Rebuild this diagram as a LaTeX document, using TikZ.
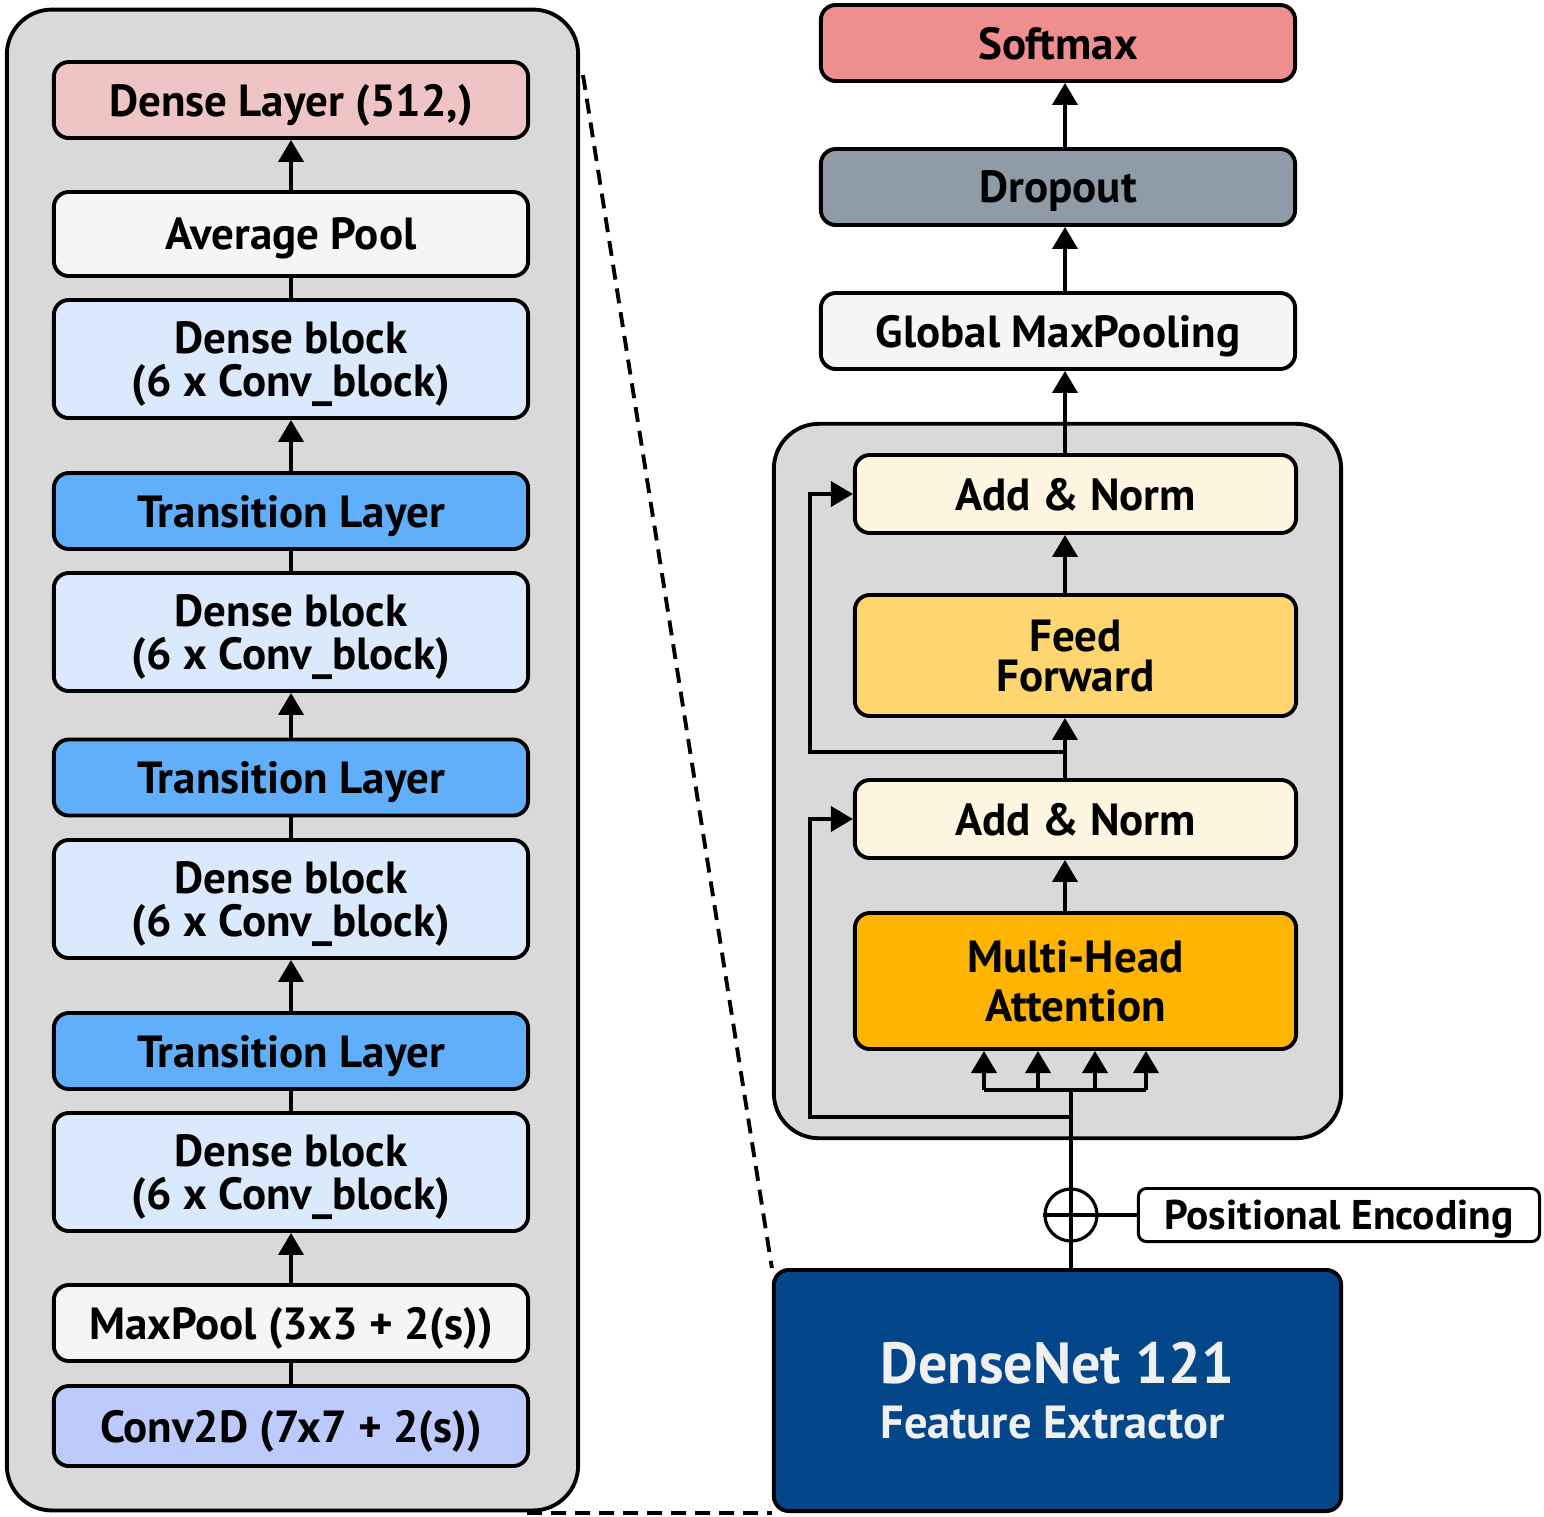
\documentclass[tikz,border=0pt]{standalone}
\usepackage{fontspec}
\setmainfont{PT Sans}
\usetikzlibrary{arrows.meta,shapes}
\definecolor{boxgray}{HTML}{D9D9D9}
\definecolor{pinkl}{HTML}{EEC4C4}
\definecolor{wht}{HTML}{F5F5F5}
\definecolor{dbblue}{HTML}{DAE9FC}
\definecolor{trblue}{HTML}{61AFFB}
\definecolor{convb}{HTML}{BCCBFC}
\definecolor{smx}{HTML}{EE8E8E}
\definecolor{drp}{HTML}{8F9BA6}
\definecolor{anc}{HTML}{FDF5E0}
\definecolor{ffy}{HTML}{FED56F}
\definecolor{mho}{HTML}{FEB400}
\definecolor{dnb}{HTML}{03468A}
\definecolor{dnt}{HTML}{F0F0F0}
\tikzstyle{lay} = [draw, line width=1.1pt, rounded corners=0.15cm, align=center, minimum width=4.74cm, inner sep=0pt, text depth=0pt, font=\bfseries\fontsize{12.8pt}{12.5pt}\selectfont]
\tikzstyle{db} = [lay, fill=dbblue, minimum height=1.18cm]
\tikzstyle{tl} = [lay, fill=trblue, minimum height=0.76cm]
\tikzstyle{hd} = [lay, minimum width=4.41cm]
\tikzstyle{an} = [hd, fill=anc, minimum height=0.78cm]
\tikzstyle{grp} = [draw, line width=1.1pt, fill=boxgray, rounded corners=0.45cm]
\tikzstyle{up} = [line width=1.1pt, -{Triangle[width=0.25cm,length=0.22cm]}]
\tikzstyle{ln} = [line width=1.1pt]
\tikzstyle{dsh} = [line width=1.1pt, dash pattern=on 0.15cm off 0.09cm]

\begin{document}
\begin{tikzpicture}[x=0.01cm,y=-0.01cm]
	\useasboundingbox (0,0) rectangle (1544,1517);

	\node[grp, minimum width=5.71cm, minimum height=15cm] (dnd) at (292.5,760) {};
	\node[lay, fill=pinkl, minimum height=0.76cm] (dl) at (291,100) {Dense Layer (512,)};
	\node[lay, fill=wht, minimum height=0.84cm] (ap) at (291,234) {Average Pool};
	\node[db] (db1) at (291,359) {Dense block\\(6 x Conv\_block)};
	\node[tl] (tl1) at (291,511) {Transition Layer};
	\node[db] (db2) at (291,632) {Dense block\\(6 x Conv\_block)};
	\node[tl] (tl2) at (291,777.5) {Transition Layer};
	\node[db] (db3) at (291,899) {Dense block\\(6 x Conv\_block)};
	\node[tl] (tl3) at (291,1051) {Transition Layer};
	\node[db] (db4) at (291,1172) {Dense block\\(6 x Conv\_block)};
	\node[lay, fill=wht, minimum height=0.76cm] (mp) at (291,1323) {MaxPool (3x3 + 2(s))};
	\node[lay, fill=convb, minimum height=0.80cm] (cv) at (291,1426) {Conv2D (7x7 + 2(s))};

	\draw[up] (ap) -- (dl);
	\draw[ln] (db1) -- (ap);
	\draw[up] (tl1) -- (db1);
	\draw[ln] (db2) -- (tl1);
	\draw[up] (tl2) -- (db2);
	\draw[ln] (db3) -- (tl2);
	\draw[up] (tl3) -- (db3);
	\draw[ln] (db4) -- (tl3);
	\draw[up] (mp) -- (db4);
	\draw[ln] (cv) -- (mp);

	\node[lay, fill=smx, minimum height=0.76cm] (sm) at (1058,43) {Softmax};
	\node[lay, fill=drp, minimum height=0.76cm] (dr) at (1058,187) {Dropout};
	\node[lay, fill=wht, minimum height=0.76cm] (gm) at (1058,331) {Global MaxPooling};
	\node[grp, minimum width=5.67cm, minimum height=7.14cm] (enc) at (1057.5,781) {};
	\node[an] (an1) at (1075.5,494) {Add \& Norm};
	\node[hd, fill=ffy, minimum height=1.21cm] (ff) at (1075.5,655.5) {Feed\\[-1pt]Forward};
	\node[an] (an2) at (1075.5,819) {Add \& Norm};
	\node[hd, fill=mho, minimum height=1.36cm] (mh) at (1075.5,981) {Multi-Head\\[1.5pt]Attention};
	\node[lay, fill=dnb, text=dnt, align=left, text depth=, minimum width=5.67cm, minimum height=2.41cm] (dn) at (1057.5,1390.5) {{\fontsize{16.5pt}{17pt}\selectfont DenseNet 121}\\[3pt]{\fontsize{13.2pt}{15pt}\selectfont Feature Extractor}};
	\node[lay, fill=white, line width=0.85pt, rounded corners=0.08cm, minimum width=4.01cm, minimum height=0.53cm, font=\bfseries\fontsize{11.8pt}{12pt}\selectfont] (pe) at (1339,1215) {Positional Encoding};
	\node[circle, draw, line width=0.9pt, minimum size=0.52cm, inner sep=0pt] (pl) at (1071,1215) {};

	\coordinate (ax) at (1065,0);
	\coordinate (lx) at (810,0);
	\coordinate (r1) at (1065,752);
	\coordinate (r2) at (1071,1117);
	\coordinate (bar) at (1071,1090);
	\coordinate (b1) at (984,1090);
	\coordinate (b4) at (1146,1090);
	\coordinate (zt) at (583,75);
	\coordinate (zb) at (527,1513);

	\draw[up] (dr.north -| ax) -- (sm.south -| ax);
	\draw[up] (gm.north -| ax) -- (dr.south -| ax);
	\draw[up] (an1.north -| ax) -- (gm.south -| ax);
	\draw[up] (ff.north -| ax) -- (an1.south -| ax);
	\draw[up] (an2.north -| ax) -- (ff.south -| ax);
	\draw[up] (mh.north -| ax) -- (an2.south -| ax);
	\draw[up] (r1) -| (lx |- an1.west) -- (an1.west);
	\draw[up] (r2) -| (lx |- an2.west) -- (an2.west);
	\draw[ln] (dn.north -| bar) -- (bar);
	\draw[ln] (b1) -- (b4);
	\foreach \x in {984,1038,1095,1146}
		\draw[up] (\x,1090) -- (mh.south -| \x,1090);
	\draw[ln, line width=0.9pt] (pl.west) -- (pe.west);

	\draw[dsh] (zt) -- (dn.north west);
	\draw[dsh] (zb) -- (dn.south west);

\end{tikzpicture}
\end{document}
